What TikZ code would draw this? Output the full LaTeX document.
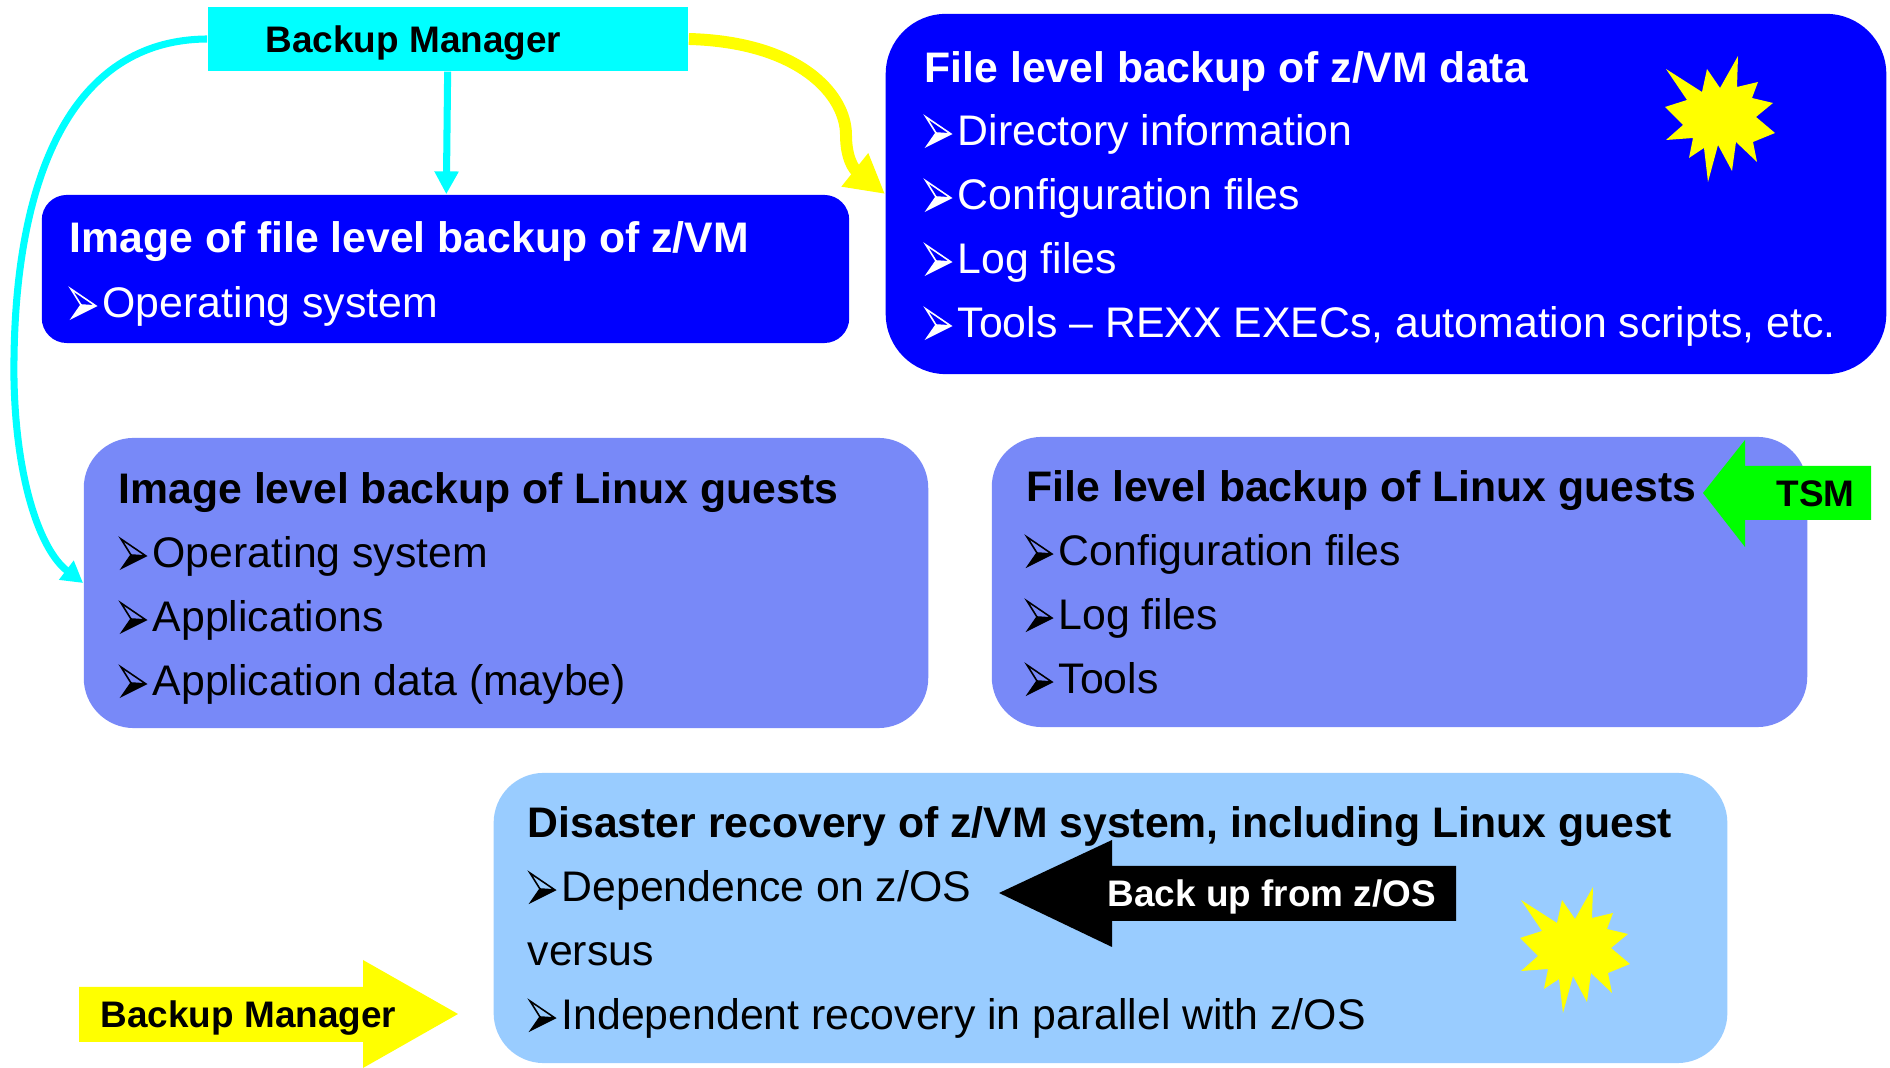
\documentclass[tikz,border=0pt]{standalone}
\usepackage{fontspec}
\setmainfont{Liberation Sans}
\usetikzlibrary{arrows.meta}
\definecolor{dblue}{RGB}{0,0,255}
\definecolor{mblue}{RGB}{120,137,248}
\definecolor{lblue}{RGB}{153,204,255}
\definecolor{cyanc}{RGB}{0,255,255}
\definecolor{yel}{RGB}{255,255,0}
\definecolor{grn}{RGB}{0,255,0}
\newcommand\bitem[5]{\pic[color=#4] at (#2-31,#3) {bul}; \node[txt,text=#4] (#1) at (#2,#3) {#5};}
\tikzset{
 panel/.style={draw=none, inner sep=0pt, rectangle},
 ttl/.style={anchor=base west, inner sep=0pt, font=\fontsize{12.15}{14}\selectfont\bfseries},
 txt/.style={anchor=base west, inner sep=0pt, font=\fontsize{12.17}{14}\selectfont},
 lbl/.style={anchor=base west, inner sep=0pt, font=\fontsize{10.5}{12}\selectfont\bfseries},
 cyanline/.style={draw=cyanc, line width=2pt},
 yelline/.style={draw=yel, line width=3.4pt},
 bul/.pic={
   \fill (10,-13) -- (25,-12) -- (1,0) -- cycle;
   \draw[line width=0.45pt, line join=miter] (0,-29) -- (25,-12) -- (1,0) -- (10,-13) -- cycle (10,-13) -- (25,-12);
 },
 seal/.pic={
   \fill[yel] (1,13) -- (37,36) -- (42,13) -- (55,32) -- (73,0) -- (72,31) -- (93,26) -- (87,42) -- (108,47) -- (91,61) -- (110,77) -- (88,86) -- (92,106) -- (71,86) -- (67,115) -- (53,89) -- (43,126) -- (39,92) -- (24,102) -- (28,82) -- (1,84) -- (18,69) -- (0,51) -- (22,44) -- cycle;
 },
}
\begin{document}
\begin{tikzpicture}[x=0.01cm, y=-0.01cm]
\useasboundingbox[fill=white] (0,0) rectangle (1890,1068);

% panels
\node[panel, fill=cyanc, minimum width=4.8cm, minimum height=0.64cm] (bm) at (448,39) {};
\node[panel, fill=dblue, rounded corners=0.6cm, minimum width=10cm, minimum height=3.6cm] (fzvm) at (1386,194) {};
\node[panel, fill=dblue, rounded corners=0.25cm, minimum width=8.07cm, minimum height=1.48cm] (izvm) at (445.5,269) {};
\node[panel, fill=mblue, rounded corners=0.5cm, minimum width=8.44cm, minimum height=2.9cm] (ilin) at (506,583) {};
\node[panel, fill=mblue, rounded corners=0.5cm, minimum width=8.15cm, minimum height=2.9cm] (flin) at (1399.5,582) {};
\node[panel, fill=lblue, rounded corners=0.5cm, minimum width=12.33cm, minimum height=2.9cm] (dr) at (1110.5,918) {};

% connectors
\draw[cyanline, -{Triangle[length=6.5pt,width=6.5pt]}] (bm) -- (izvm);
\draw[cyanline, -{Triangle[length=6pt,width=6.5pt]}] (bm.west) .. controls (60,40) and (12,200) .. (14,380) .. controls (16,480) and (40,550) .. (ilin.west);
\draw[yelline, -{Triangle[length=11pt,width=11.4pt]}] (bm.east) .. controls (800,42) and (846,95) .. (846,135) .. controls (846,160) and (855,170) .. (fzvm.west);

% stars
\pic at (1665,56) {seal};
\pic at (1520,887) {seal};

% block arrows
\fill[grn] (1703,493) -- (1745,440) -- (1745,466) -- (1871,466) -- (1871,520) -- (1745,520) -- (1745,547) -- cycle;
\fill[black] (999,893) -- (1112,840) -- (1112,866) -- (1456,866) -- (1456,921) -- (1112,921) -- (1112,947) -- cycle;
\fill[yel] (79,987) -- (363,987) -- (363,960) -- (458,1014) -- (363,1068) -- (363,1042) -- (79,1042) -- cycle;

% labels
\node[lbl] (bmt) at (265,53) {Backup Manager};
\node[lbl] (tsm) at (1776,507) {TSM};
\node[lbl, text=white] (zos) at (1107,907) {Back up from z/OS};
\node[lbl] (bm2) at (100,1028) {Backup Manager};

% top right panel text
\node[ttl, text=white] (fz0) at (924,83) {File level backup of z/VM data};
\bitem{fz1}{957}{146}{white}{Directory information}
\bitem{fz2}{957}{210}{white}{Configuration files}
\bitem{fz3}{957}{274}{white}{Log files}
\bitem{fz4}{957}{338}{white}{Tools – REXX EXECs, automation scripts, etc.}

% image of file level
\node[ttl, text=white] (iz0) at (69,253) {Image of file level backup of z/VM};
\bitem{iz1}{102}{318}{white}{Operating system}

% image level linux
\node[ttl] (il0) at (118,504) {Image level backup of Linux guests};
\bitem{il1}{152}{568}{black}{Operating system}
\bitem{il2}{152}{632}{black}{Applications}
\bitem{il3}{152}{696}{black}{Application data (maybe)}

% file level linux
\node[ttl] (fl0) at (1026,502) {File level backup of Linux guests};
\bitem{fl1}{1058}{566}{black}{Configuration files}
\bitem{fl2}{1058}{630}{black}{Log files}
\bitem{fl3}{1058}{694}{black}{Tools}

% disaster recovery
\node[ttl] (dr0) at (527,838) {Disaster recovery of z/VM system, including Linux guest};
\bitem{dr1}{561}{902}{black}{Dependence on z/OS}
\node[txt] (dr2) at (527,966) {versus};
\bitem{dr3}{561}{1030}{black}{Independent recovery in parallel with z/OS}
\end{tikzpicture}
\end{document}
